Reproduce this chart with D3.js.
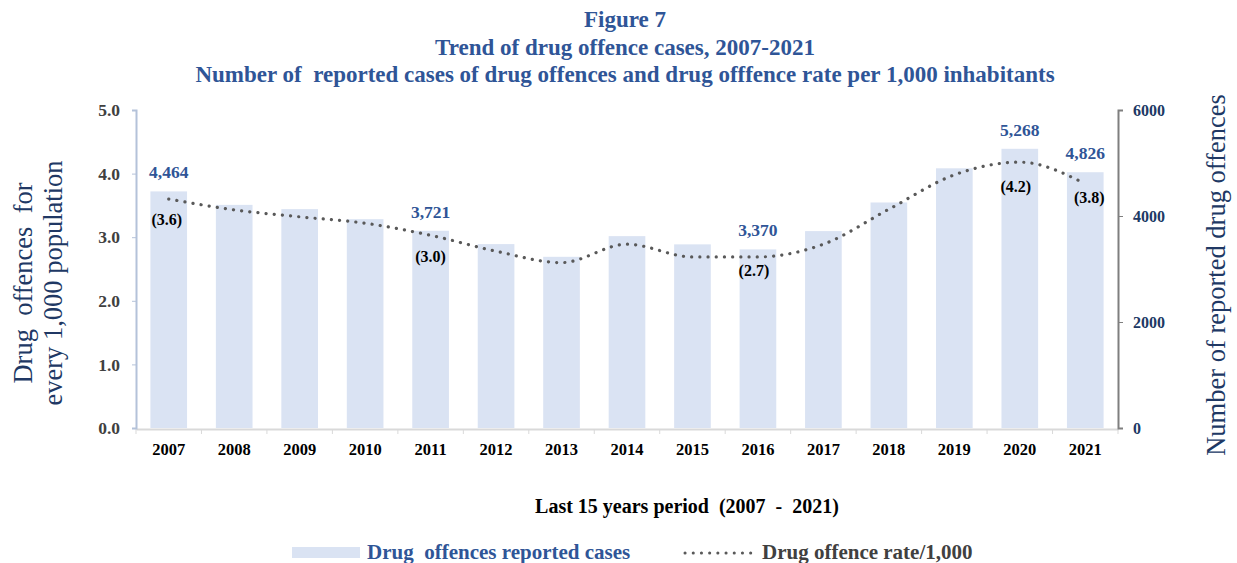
<!DOCTYPE html>
<html>
<head>
<meta charset="utf-8">
<script src="https://cdn.jsdelivr.net/npm/d3@7"></script>
<style>
  html, body { margin: 0; padding: 0; background: #ffffff; }
  svg { display: block; font-family: "Liberation Serif", "DejaVu Serif", serif; }
</style>
</head>
<body>
<svg id="chart" width="1237" height="563"></svg>
<script>
// Years on the x axis
const years = ["2007","2008","2009","2010","2011","2012","2013","2014","2015","2016","2017","2018","2019","2020","2021"];
// Reported drug offence cases (right axis)
const cases = [4464, 4210, 4130, 3940, 3721, 3470, 3230, 3620, 3465, 3370, 3715, 4255, 4900, 5268, 4826];
// Drug offence rate per 1,000 inhabitants (left axis)
const rates = [3.6, 3.43, 3.32, 3.22, 3.03, 2.78, 2.6, 2.89, 2.69, 2.69, 2.89, 3.44, 3.98, 4.18, 3.84];
// Which years carry value labels
const caseLabelYears = ["2007","2011","2016","2020","2021"];
const rateLabelYears = ["2007","2011","2016","2020","2021"];
const rateLabelText = ["(3.6)","(3.0)","(2.7)","(4.2)","(3.8)"];
const leftTicks = [0, 1, 2, 3, 4, 5];
const rightTicks = [0, 2000, 4000, 6000];
const titleLines = ["Figure 7", "Trend of drug offence cases, 2007-2021",
  "Number of  reported cases of drug offences and drug offfence rate per 1,000 inhabitants"];

const svg = d3.select("#chart");
const plotLeft = 136, plotRight = 1118, plotTop = 110, plotBottom = 428;

const xb = d3.scaleBand().domain(years).range([plotLeft, plotRight]);
const yL = d3.scaleLinear().domain([0, 5]).range([plotBottom, plotTop]);
const yR = d3.scaleLinear().domain([0, 6000]).range([plotBottom, plotTop]);

const blue = "#2F5597", navy = "#203864";

// Titles
svg.append("g").selectAll("text").data(titleLines).join("text")
  .attr("x", 625).attr("y", (d, i) => [27, 55, 82][i])
  .attr("text-anchor", "middle").attr("font-weight", "bold")
  .attr("font-size", 23).attr("fill", blue)
  .attr("xml:space", "preserve").text(d => d);

// Bars
svg.append("g").selectAll("rect").data(years).join("rect")
  .attr("x", d => xb(d) + xb.bandwidth() * 0.22)
  .attr("width", xb.bandwidth() * 0.56)
  .attr("y", (d, i) => yR(cases[i]))
  .attr("height", (d, i) => plotBottom - yR(cases[i]))
  .attr("fill", "#DAE3F3");

// Bottom axis
const gx = svg.append("g").attr("transform", `translate(0,${plotBottom + 1})`)
  .call(d3.axisBottom(xb).tickSize(0).tickPadding(14));
gx.select(".domain").attr("stroke", "#D9D9D9").attr("stroke-width", 2);
gx.selectAll("text").attr("font-size", 16.5).attr("font-weight", "bold")
  .attr("fill", "#000").attr("font-family", "Liberation Serif, serif");
gx.append("g").selectAll("line").data(years.concat(["end"])).join("line")
  .attr("x1", (d, i) => plotLeft + i * xb.step()).attr("x2", (d, i) => plotLeft + i * xb.step())
  .attr("y1", 0).attr("y2", 5).attr("stroke", "#D9D9D9");

// Left axis
const gl = svg.append("g").attr("transform", `translate(${plotLeft},0)`)
  .call(d3.axisLeft(yL).tickValues(leftTicks).tickFormat(d3.format(".1f")).tickSize(4).tickPadding(12));
gl.select(".domain").attr("stroke", "#B4C2D9").attr("stroke-width", 2);
gl.selectAll(".tick line").attr("stroke", "#B4C2D9");
gl.selectAll("text").attr("font-size", 17.5).attr("font-weight", "bold")
  .attr("fill", "#404040").attr("font-family", "Liberation Serif, serif");

// Right axis
const gr = svg.append("g").attr("transform", `translate(${plotRight},0)`)
  .call(d3.axisRight(yR).tickValues(rightTicks).tickFormat(d3.format("d")).tickSize(5).tickPadding(10));
gr.select(".domain").attr("stroke", "#7F7F7F").attr("stroke-width", 2);
gr.selectAll(".tick line").attr("stroke", "#7F7F7F");
gr.selectAll("text").attr("font-size", 16).attr("font-weight", "bold")
  .attr("fill", navy).attr("font-family", "Liberation Serif, serif");

// Rate line (dotted, smoothed)
const line = d3.line()
  .x((d, i) => xb(years[i]) + xb.bandwidth() / 2)
  .y(d => yL(d))
  .curve(d3.curveMonotoneX);
svg.append("path").datum(rates).attr("d", line)
  .attr("fill", "none").attr("stroke", "#595959").attr("stroke-width", 3.2)
  .attr("stroke-linecap", "round").attr("stroke-dasharray", "0.1 8.1");

// Case value labels
svg.append("g").selectAll("text").data(caseLabelYears).join("text")
  .attr("x", d => xb(d) + xb.bandwidth() / 2)
  .attr("y", d => yR(cases[years.indexOf(d)]) - 13)
  .attr("text-anchor", "middle").attr("font-size", 17.5).attr("font-weight", "bold")
  .attr("fill", blue).text(d => d3.format(",")(cases[years.indexOf(d)]));

// Rate value labels
const rateOffsets = {"2007": [-2, 26], "2011": [0, 27], "2016": [-4, 19], "2020": [-4, 30], "2021": [4, 19]};
svg.append("g").selectAll("text").data(rateLabelYears).join("text")
  .attr("x", d => xb(d) + xb.bandwidth() / 2 + rateOffsets[d][0])
  .attr("y", d => yL(rates[years.indexOf(d)]) + rateOffsets[d][1])
  .attr("text-anchor", "middle").attr("font-size", 16).attr("font-weight", "bold")
  .attr("fill", "#000").text((d, i) => rateLabelText[i]);

// Axis titles
svg.append("text").attr("transform", "translate(32,283) rotate(-90)")
  .attr("text-anchor", "middle").attr("font-size", 26.5).attr("fill", navy)
  .attr("xml:space", "preserve").text("Drug  offences  for");
svg.append("text").attr("transform", "translate(62,283) rotate(-90)")
  .attr("text-anchor", "middle").attr("font-size", 26.5).attr("fill", navy)
  .text("every 1,000 population");
svg.append("text").attr("transform", "translate(1225,275) rotate(-90)")
  .attr("text-anchor", "middle").attr("font-size", 26.5).attr("fill", navy)
  .text("Number of reported drug offences");

svg.append("text").attr("x", 687).attr("y", 513).attr("text-anchor", "middle")
  .attr("font-size", 20).attr("font-weight", "bold").attr("fill", "#000")
  .attr("xml:space", "preserve").text("Last 15 years period  (2007  -  2021)");

// Legend
const lg = svg.append("g");
lg.append("rect").attr("x", 292).attr("y", 547).attr("width", 68).attr("height", 11).attr("fill", "#DAE3F3");
lg.append("text").attr("x", 367).attr("y", 559).attr("font-size", 21).attr("font-weight", "bold")
  .attr("fill", blue).attr("xml:space", "preserve").text("Drug  offences reported cases");
lg.append("line").attr("x1", 685).attr("x2", 756).attr("y1", 553).attr("y2", 553)
  .attr("stroke", "#595959").attr("stroke-width", 3).attr("stroke-linecap", "round")
  .attr("stroke-dasharray", "0.1 8.1");
lg.append("text").attr("x", 762).attr("y", 559).attr("font-size", 21).attr("font-weight", "bold")
  .attr("fill", "#404040").text("Drug offence rate/1,000");
</script>
</body>
</html>
